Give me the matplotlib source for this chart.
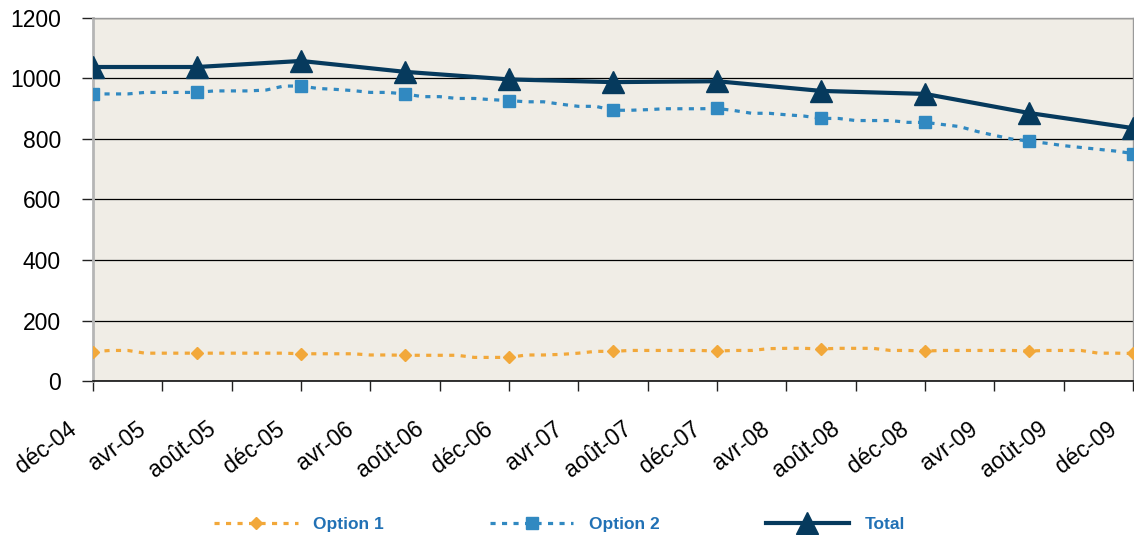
import matplotlib
matplotlib.use('agg')
import matplotlib.pyplot as plt
import matplotlib.transforms as mtransforms
import numpy as np

plt.rcParams['font.family'] = ['Liberation Sans', 'DejaVu Sans']

# monthly series, déc-04 .. déc-09 (61 months)
option1 = [97, 101, 101, 92, 92, 92, 92, 92, 92, 92, 92, 92,
           90, 90, 90, 90, 86, 86, 85, 85, 85, 85, 78, 78,
           78, 86, 86, 88, 92, 98, 98, 101, 101, 101, 101, 101,
           99, 101, 101, 107, 108, 108, 106, 108, 108, 108, 101, 101,
           99, 101, 101, 101, 101, 101, 99, 101, 101, 101, 92, 92,
           91]
option2 = [949, 949, 949, 954, 954, 954, 954, 959, 959, 959, 962, 975,
           975, 967, 964, 960, 954, 954, 949, 940, 940, 934, 934, 930,
           927, 923, 923, 915, 908, 908, 895, 895, 897, 900, 900, 900,
           901, 894, 885, 885, 880, 876, 868, 868, 861, 861, 861, 855,
           855, 848, 841, 825, 812, 800, 793, 786, 778, 772, 766, 760,
           752]
# half-yearly totals
total = [1038, 1038, 1058, 1022, 997, 988, 991, 959, 949, 886, 836]

tick_labels = ['déc-04', 'avr-05', 'août-05', 'déc-05', 'avr-06', 'août-06',
               'déc-06', 'avr-07', 'août-07', 'déc-07', 'avr-08', 'août-08',
               'déc-08', 'avr-09', 'août-09', 'déc-09']

months = np.arange(len(option1))
months_total = np.arange(0, len(option1), 6)

W, H = 1134, 535
fig = plt.figure(figsize=(W / 100, H / 100), dpi=100)
ax = fig.add_axes([93 / W, 1 - 381 / H, 1040 / W, 363 / H])
ax.set_facecolor('#F0EDE6')

c1, c2, ct = '#F2A83A', '#3189C1', '#063A5D'
ax.plot(months, option1, color=c1, lw=2.3, dashes=(1.6, 2.0),
        marker='D', ms=6, markevery=6, label='Option 1', zorder=3)
ax.plot(months, option2, color=c2, lw=2.3, dashes=(1.6, 2.0),
        marker='s', ms=8, markevery=6, label='Option 2', zorder=3)
ax.plot(months_total, total, color=ct, lw=3, marker='^', ms=16.5,
        label='Total', zorder=4)

ax.set_xlim(0, 60)
ax.set_ylim(0, 1200)
ax.set_yticks(np.arange(0, 1201, 200))
ax.set_xticks(np.arange(0, 61, 4))
ax.set_xticklabels(tick_labels, rotation=37, ha='right', va='top')
ax.yaxis.grid(True, color='black', lw=0.9)
ax.set_axisbelow(True)

ax.tick_params(axis='y', direction='out', length=8, width=1, pad=15,
               labelsize=16.5, color='#222222')
ax.tick_params(axis='x', direction='out', length=7, width=1, pad=19,
               labelsize=16.5, color='#222222')
ax.yaxis.get_major_ticks()[4].tick1line.set_color('#E8A46A')

shift = mtransforms.ScaledTranslation(-12 / 100, 0, fig.dpi_scale_trans)
for lbl in ax.get_xticklabels():
    lbl.set_transform(lbl.get_transform() + shift)

ax.spines['bottom'].set_color('#111111')
ax.spines['bottom'].set_linewidth(1.2)
ax.spines['left'].set_color('#B5B5B5')
ax.spines['left'].set_linewidth(2)
for s in ('top', 'right'):
    ax.spines[s].set_color('#9A9A9A')
    ax.spines[s].set_linewidth(1)

fig.legend(loc='center', bbox_to_anchor=(0.4935, 1 - 524 / H), ncol=3,
           frameon=False, numpoints=1, handlelength=4.8, handletextpad=0.9,
           columnspacing=6.1, labelcolor='#2171B5',
           prop={'weight': 'bold', 'size': 12.5})

fig.savefig('out.png', dpi=100)
